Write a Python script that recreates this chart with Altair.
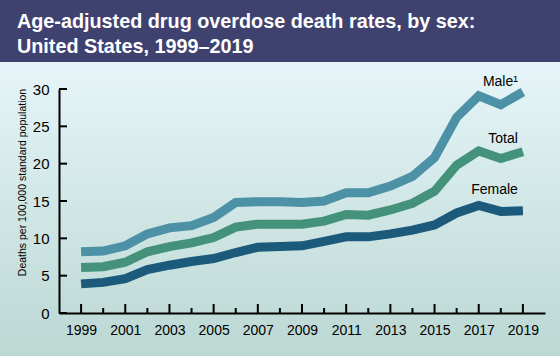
import altair as alt
import pandas as pd

years = list(range(1999, 2020))
male = [8.2, 8.3, 9.0, 10.6, 11.4, 11.7, 12.8, 14.8, 14.9, 14.9, 14.8, 15.0,
        16.1, 16.1, 17.0, 18.3, 20.8, 26.2, 29.1, 27.9, 29.6]
total = [6.1, 6.2, 6.8, 8.2, 8.9, 9.4, 10.1, 11.5, 11.9, 11.9, 11.9, 12.3,
         13.2, 13.1, 13.8, 14.7, 16.3, 19.8, 21.7, 20.7, 21.6]
female = [3.9, 4.1, 4.6, 5.8, 6.4, 6.9, 7.3, 8.1, 8.8, 8.9, 9.0, 9.6,
          10.2, 10.2, 10.6, 11.1, 11.8, 13.4, 14.4, 13.6, 13.7]
series = ["Male", "Total", "Female"]
series_labels = ["Male\u00b9", "Total", "Female"]
colors = ["#4c91a5", "#45927a", "#1b5a7b"]
y_ticks = [0, 5, 10, 15, 20, 25, 30]
x_labels = list(range(1999, 2020, 2))
title_lines = ["Age-adjusted drug overdose death rates, by sex:",
               "United States, 1999\u20132019"]
y_title = "Deaths per 100,000 standard population"

FONT = "Liberation Sans"

rows = []
for s, vals in zip(series, [male, total, female]):
    for y, v in zip(years, vals):
        rows.append({"year": y, "series": s, "rate": v})
df = pd.DataFrame(rows)

W, H = 486, 224
PL, PT, PR, PB = 59, 89, 15, 43

xscale = alt.Scale(domain=[1998, 2020], nice=False, zero=False)
yscale = alt.Scale(domain=[0, 30], nice=False)

xaxis = alt.Axis(values=x_labels, format="d", ticks=False, grid=False,
                 domainColor="black", domainWidth=2, labelFontSize=14,
                 labelFont=FONT, labelColor="black", labelPadding=10,
                 labelOverlap=False, title=None, zindex=1, labelFlush=False)
yaxis = alt.Axis(values=y_ticks, ticks=False, grid=False,
                 domainColor="black", domainWidth=2, labelFontSize=15,
                 labelFont=FONT, labelColor="black", labelPadding=10,
                 labelOverlap=False, labelFlush=False,
                 title=y_title, titleFont=FONT, titleFontSize=10.5,
                 titleFontWeight="normal", titleColor="black",
                 titleX=-37, titleY=93, titleAngle=-90,
                 titleAlign="center", titleBaseline="middle", zindex=1)

X = alt.X("year:Q", scale=xscale, axis=xaxis)
Y = alt.Y("rate:Q", scale=yscale, axis=yaxis)

one = pd.DataFrame({"k": [0]})

grad = alt.Gradient(
    gradient="linear",
    stops=[alt.GradientStop(color="#e6f5f9", offset=0),
           alt.GradientStop(color="#bbd8d3", offset=1)],
    x1=0, x2=0, y1=0, y2=1,
)
background = alt.Chart(one).mark_rect(fill=grad).encode(
    x=alt.value(-PL), x2=alt.value(560 - PL),
    y=alt.value(-PT + 62), y2=alt.value(356 - PT),
)
banner = alt.Chart(one).mark_rect(fill="#3f426f").encode(
    x=alt.value(-PL), x2=alt.value(560 - PL),
    y=alt.value(-PT), y2=alt.value(-PT + 62),
)
title1 = alt.Chart(one).mark_text(
    text=title_lines[0], align="left", baseline="alphabetic", fontSize=19.8,
    fontWeight="bold", color="white", font=FONT,
).encode(x=alt.value(17 - PL), y=alt.value(28 - PT))
title2 = alt.Chart(one).mark_text(
    text=title_lines[1], align="left", baseline="alphabetic", fontSize=19.8,
    fontWeight="bold", color="white", font=FONT,
).encode(x=alt.value(17 - PL), y=alt.value(53 - PT))

lines = alt.Chart(df).mark_line(strokeWidth=9).encode(
    x=X, y=Y,
    color=alt.Color("series:N", scale=alt.Scale(domain=series, range=colors),
                    legend=None),
)

# tick marks drawn inward from the axis lines
xt_df = pd.DataFrame({"year": years, "rate": [y_ticks[0]] * len(years)})
xmajor = alt.Chart(xt_df).transform_filter("datum.year % 2 == 1").mark_rule(
    strokeWidth=2, color="black"
).encode(x=X, y=Y, y2=alt.value(H - 9))
xminor = alt.Chart(xt_df).transform_filter("datum.year % 2 == 0").mark_rule(
    strokeWidth=2, color="black"
).encode(x=X, y=Y, y2=alt.value(H - 5))

yt_df = pd.DataFrame({"year": [xscale.domain[0]] * len(y_ticks), "rate": y_ticks})
yt = alt.Chart(yt_df).mark_rule(strokeWidth=2, color="black").encode(
    x=X, x2=alt.value(8), y=Y
)

dys = [-6, -8.5, -16.5]
label_layers = []
for s, lab, dy in zip(series, series_labels, dys):
    label_layers.append(
        alt.Chart(df).transform_filter(
            (alt.datum.series == s) & (alt.datum.year == 2019)
        ).mark_text(text=lab, align="right", baseline="alphabetic", dx=-5,
                    dy=dy, fontSize=14, font=FONT, color="black")
        .encode(x=X, y=Y)
    )

chart = alt.layer(
    background, banner, title1, title2, lines, xmajor, xminor, yt, *label_layers
).properties(
    width=W, height=H,
    autosize=alt.AutoSizeParams(type="none"),
    padding={"left": PL, "top": PT, "right": PR, "bottom": PB},
).configure_view(stroke=None).configure(background="#d0e6e6")

chart.save("out.html", embed_options={"renderer": "svg", "actions": False})
